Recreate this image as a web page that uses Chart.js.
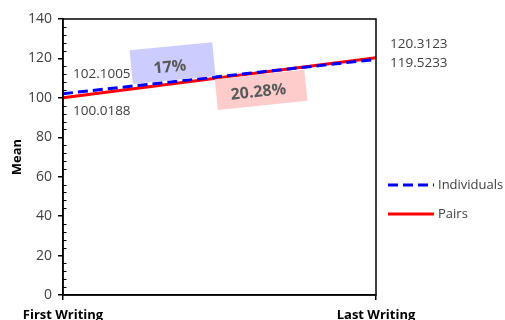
<!DOCTYPE html>
<html>
<head>
<meta charset="utf-8">
<script src="https://cdn.jsdelivr.net/npm/chart.js@4.4.1/dist/chart.umd.min.js"></script>
<style>
    html, body { margin: 0; padding: 0; background: #ffffff; }
    #wrap { width: 505px; height: 320px; }
</style>
</head>
<body>
<div id="wrap"><canvas id="myChart" width="505" height="320"></canvas></div>
<script>
const categories = ['First Writing', 'Last Writing'];
const individuals = [102.1005, 119.5233];
const pairs = [100.0188, 120.3123];
const yTicks = [0, 20, 40, 60, 80, 100, 120, 140];
const gains = ['17%', '20.28%'];

const FONT = "'Open Sans', 'Noto Sans', sans-serif";
const TEXT = '#404040';

// value labels next to the line ends: [dx, dy] from the point
const labelOffsets = [
    [[10, -20], [14, 4]],   // Individuals
    [[10, 13], [14, -14]]   // Pairs
];

// straight black frame round the plot plus the small inner ticks on the y axis
const framePlugin = {
    id: 'frame',
    afterDraw(chart) {
        const {ctx, chartArea: a, scales: {y}} = chart;
        ctx.save();
        ctx.strokeStyle = '#000';
        ctx.lineWidth = 1.5;
        ctx.strokeRect(a.left, a.top, a.right - a.left, a.bottom - a.top);
        ctx.lineWidth = 1;
        ctx.beginPath();
        for (let v = 0; v <= 140; v += 4) {
            if (v % 20 === 0) continue;
            const py = Math.round(y.getPixelForValue(v)) + 0.5;
            ctx.moveTo(a.left, py);
            ctx.lineTo(a.left + 3.5, py);
        }
        ctx.stroke();
        ctx.restore();
    }
};

const valueLabelPlugin = {
    id: 'valueLabels',
    afterDatasetsDraw(chart) {
        const {ctx} = chart;
        ctx.save();
        ctx.font = '13.5px ' + FONT;
        ctx.fillStyle = TEXT;
        ctx.textAlign = 'left';
        ctx.textBaseline = 'middle';
        chart.data.datasets.forEach((ds, i) => {
            const meta = chart.getDatasetMeta(i);
            meta.data.forEach((pt, j) => {
                const [dx, dy] = labelOffsets[i][j];
                ctx.fillText(ds.data[j].toFixed(4), pt.x + dx, pt.y + dy);
            });
        });
        ctx.restore();
    }
};

// shaded gain boxes, placed by category fraction and y value
const gainBoxes = [
    {text: gains[0], x: 0.35, y: 117.6, w: 83, h: 34, fill: 'rgb(204,204,255)', angle: -5.5, ty: 4},
    {text: gains[1], x: 0.633, y: 104, w: 90, h: 31, fill: 'rgb(255,204,204)', angle: -6, ty: 2}
];

const gainPlugin = {
    id: 'gains',
    afterDatasetsDraw(chart) {
        const {ctx, scales: {x, y}} = chart;
        gainBoxes.forEach(b => {
            const cx = x.getPixelForValue(b.x);
            const cy = y.getPixelForValue(b.y);
            ctx.save();
            ctx.translate(cx, cy);
            ctx.rotate(b.angle * Math.PI / 180);
            ctx.fillStyle = b.fill;
            ctx.fillRect(-b.w / 2, -b.h / 2, b.w, b.h);
            ctx.font = 'bold 16px ' + FONT;
            ctx.fillStyle = '#595959';
            ctx.textAlign = 'center';
            ctx.textBaseline = 'middle';
            ctx.fillText(b.text, -3, b.ty);
            ctx.restore();
        });
    }
};

const legendPlugin = {
    id: 'sideLegend',
    afterDraw(chart) {
        const {ctx} = chart;
        const rows = [185, 214];
        ctx.save();
        chart.data.datasets.forEach((ds, i) => {
            const yy = rows[i];
            ctx.strokeStyle = ds.borderColor;
            ctx.lineWidth = 3;
            ctx.setLineDash(ds.borderDash || []);
            ctx.beginPath();
            ctx.moveTo(388, yy);
            ctx.lineTo(434, yy);
            ctx.stroke();
            ctx.setLineDash([]);
            ctx.font = '13px ' + FONT;
            ctx.fillStyle = TEXT;
            ctx.textAlign = 'left';
            ctx.textBaseline = 'middle';
            ctx.fillText(ds.label, 438, yy);
        });
        ctx.restore();
    }
};

const ctx = document.getElementById('myChart');
new Chart(ctx, {
    type: 'line',
    data: {
        labels: categories,
        datasets: [{
            label: 'Individuals',
            data: individuals,
            borderColor: '#0000ff',
            borderWidth: 3,
            borderDash: [10, 5],
            pointRadius: 0,
            tension: 0
        }, {
            label: 'Pairs',
            data: pairs,
            borderColor: '#ff0000',
            borderWidth: 3,
            pointRadius: 0,
            tension: 0
        }]
    },
    plugins: [gainPlugin, valueLabelPlugin, framePlugin, legendPlugin],
    options: {
        responsive: false,
        animation: false,
        layout: {padding: {top: 19, right: 129, left: 0, bottom: 0}},
        plugins: {
            legend: {display: false},
            tooltip: {enabled: false}
        },
        scales: {
            x: {
                offset: false,
                grid: {drawOnChartArea: false, tickLength: 5, color: '#000', lineWidth: 1.5},
                border: {color: '#000', width: 1.5},
                ticks: {
                    color: '#000',
                    padding: 7,
                    maxRotation: 0,
                    font: {family: FONT, size: 13, weight: 'bold'}
                },
                afterFit(scale) { scale.height = 25; }
            },
            y: {
                min: 0,
                max: 140,
                afterBuildTicks(scale) { scale.ticks = yTicks.map(v => ({value: v})); },
                grid: {drawOnChartArea: false, tickLength: 5, color: '#000', lineWidth: 1.5},
                border: {color: '#000', width: 1.5},
                ticks: {
                    color: TEXT,
                    padding: 6,
                    font: {family: FONT, size: 14}
                },
                title: {
                    display: true,
                    text: 'Mean',
                    color: '#000',
                    padding: {top: 9, bottom: 0},
                    font: {family: FONT, size: 13, weight: 'bold'}
                },
                afterFit(scale) { scale.width = 63; }
            }
        }
    }
});
</script>
</body>
</html>
